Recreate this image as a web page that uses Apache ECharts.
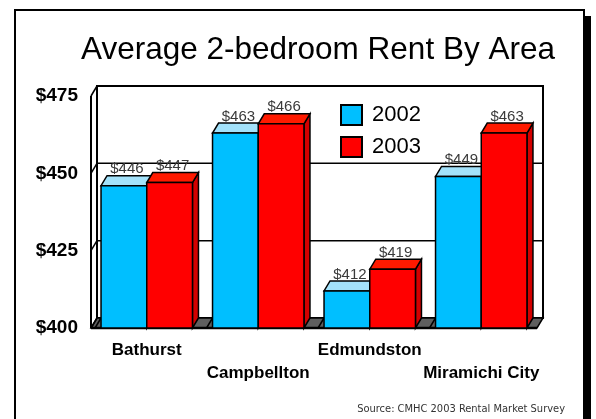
<!DOCTYPE html>
<html lang="en">
<head>
    <meta charset="UTF-8">
    <title>Average 2-bedroom Rent By Area</title>
    <script type="text/javascript" src="https://cdn.jsdelivr.net/npm/echarts@6/dist/echarts.min.js"></script>
</head>
<body>
<div id="chart" class="chart"></div>
</body>
<style>
    * {
        padding: 0;
        margin: 0;
    }

    html, body {
        width: 100%;
        height: 100%;
        background-color: white;
    }

    .chart {
        width: 596px;
        height: 419px;
    }
</style>
<script>

    const categories = ['Bathurst', 'Campbellton', 'Edmundston', 'Miramichi City']
    const rent2002 = [446, 463, 412, 449]
    const rent2003 = [447, 466, 419, 463]
    const yTicks = [400, 425, 450, 475]

    // 3d depth of the old style chart
    const DX = 6
    const DY = -10
    const BASE = yTicks[0]

    const barRenderer = function (slot, colors) {
        return function (params, api) {
            let idx = api.value(0)
            let val = api.value(1)
            let top = api.coord([idx, val])
            let base = api.coord([idx, BASE])
            let band = api.size([1, 0])[0]
            let w = band * 0.41
            let x0 = top[0] - w + slot * w
            let x1 = x0 + w
            let yT = top[1], yB = base[1]
            let line = {stroke: '#000', lineWidth: 1.5}
            let children = []
            if (slot === 0) {
                children.push({
                    type: 'line',
                    shape: {x1: x0 - DX, y1: yB, x2: x0, y2: yB + DY},
                    style: {stroke: '#000', lineWidth: 1.5}
                })
            }
            children.push({
                type: 'polygon',
                shape: {points: [[x1, yT], [x1 + DX, yT + DY], [x1 + DX, yB + DY], [x1, yB]]},
                style: Object.assign({fill: colors.side}, line)
            })
            children.push({
                type: 'polygon',
                shape: {points: [[x0, yT], [x1, yT], [x1 + DX, yT + DY], [x0 + DX, yT + DY]]},
                style: Object.assign({fill: colors.top}, line)
            })
            children.push({
                type: 'rect',
                shape: {x: x0, y: yT, width: w, height: yB - yT},
                style: Object.assign({fill: colors.front}, line)
            })
            children.push({
                type: 'text',
                style: {
                    x: x0 + w / 2 + DX / 2,
                    y: yT + DY + 1,
                    text: '$' + val,
                    align: 'center',
                    verticalAlign: 'bottom',
                    fill: '#3a3a3a',
                    font: '15px "Liberation Sans", Arial, sans-serif'
                }
            })
            return {type: 'group', children: children}
        }
    }

    const wallRenderer = function (params, api) {
        let v = api.value(1)
        let left = api.coord([0, v])
        let right = api.coord([categories.length - 1, v])
        let band = api.size([1, 0])[0]
        let xa = left[0] - band / 2
        let xb = right[0] + band / 2
        let y = left[1]
        let children = []
        if (params.dataIndex === 0) {
            let yTop = api.coord([0, yTicks[yTicks.length - 1]])[1]
            children.push({
                type: 'rect',
                shape: {x: xa + DX, y: yTop + DY, width: xb - xa, height: y - yTop},
                style: {fill: '#fff', stroke: '#000', lineWidth: 2}
            })
            children.push({
                type: 'polygon',
                shape: {points: [[xa, y], [xb, y], [xb + DX, y + DY], [xa + DX, y + DY]]},
                style: {fill: '#5f5f5f', stroke: '#000', lineWidth: 1.5}
            })
            children.push({
                type: 'line',
                shape: {x1: xa, y1: yTop, x2: xa, y2: y},
                style: {stroke: '#000', lineWidth: 2}
            })
            children.push({
                type: 'line',
                shape: {x1: xa, y1: y, x2: xb, y2: y},
                style: {stroke: '#000', lineWidth: 2.5}
            })
        } else {
            children.push({
                type: 'line',
                shape: {x1: xa + DX, y1: y + DY, x2: xb + DX, y2: y + DY},
                style: {stroke: '#000', lineWidth: 1.5}
            })
        }
        children.push({
            type: 'line',
            shape: {x1: xa, y1: y, x2: xa + DX, y2: y + DY},
            style: {stroke: '#000', lineWidth: 1.5}
        })
        return {type: 'group', children: children}
    }

    let chart = echarts.init(document.getElementById('chart'))

    chart.setOption({
        animation: false,
        title: {
            text: 'Average 2-bedroom Rent By Area',
            left: 76,
            top: 29,
            textStyle: {
                fontFamily: '"Liberation Sans", Arial, sans-serif',
                fontWeight: 'normal',
                fontSize: 31.5,
                color: '#000'
            }
        },
        legend: {
            data: ['2002', '2003'],
            orient: 'vertical',
            left: 335,
            top: 99,
            itemWidth: 21,
            itemHeight: 20,
            itemGap: 10,
            icon: 'rect',
            textStyle: {
                fontFamily: '"Liberation Sans", Arial, sans-serif',
                fontSize: 22,
                color: '#000',
                padding: [0, 0, 0, 5]
            }
        },
        grid: {
            left: 91,
            top: 96,
            width: 446,
            height: 232
        },
        xAxis: {
            type: 'category',
            data: categories,
            axisLine: {show: false},
            axisTick: {show: false},
            axisLabel: {
                interval: 0,
                margin: 11,
                fontFamily: '"Liberation Sans", Arial, sans-serif',
                fontWeight: 'bold',
                fontSize: 17,
                lineHeight: 23,
                color: '#000',
                formatter: (v, i) => (i % 2 ? '\n' + v : v)
            }
        },
        yAxis: {
            type: 'value',
            min: 400,
            max: 475,
            interval: 25,
            splitLine: {show: false},
            axisLine: {show: false},
            axisTick: {show: false},
            axisLabel: {
                margin: 13,
                fontFamily: '"Liberation Sans", Arial, sans-serif',
                fontWeight: 'bold',
                fontSize: 19,
                color: '#000',
                formatter: (v) => '$' + v
            }
        },
        graphic: [
            {
                type: 'rect',
                shape: {x: 15, y: 10, width: 569, height: 430},
                style: {fill: 'none', stroke: '#000', lineWidth: 2}
            },
            {
                type: 'rect',
                shape: {x: 584, y: 16, width: 7, height: 430},
                style: {fill: '#000'}
            },
            {
                type: 'text',
                right: 31,
                top: 404,
                style: {
                    text: 'Source: CMHC 2003 Rental Market Survey',
                    fill: '#333',
                    font: '11px "Liberation Sans Narrow", "DejaVu Sans Condensed", sans-serif'
                }
            }
        ],
        series: [
            {
                name: 'wall',
                type: 'custom',
                silent: true,
                z: 1,
                renderItem: wallRenderer,
                encode: {x: 0, y: 1},
                data: yTicks.map(v => [0, v])
            },
            {
                name: '2002',
                type: 'custom',
                z: 2,
                itemStyle: {color: '#00bfff', borderColor: '#000', borderWidth: 1.5},
                renderItem: barRenderer(0, {front: '#00bfff', top: '#a3e2fb', side: '#0090c0'}),
                encode: {x: 0, y: 1},
                data: rent2002.map((v, i) => [i, v])
            },
            {
                name: '2003',
                type: 'custom',
                z: 3,
                itemStyle: {color: '#ff0000', borderColor: '#000', borderWidth: 1.5},
                renderItem: barRenderer(1, {front: '#ff0000', top: '#ff1a00', side: '#d40000'}),
                encode: {x: 0, y: 1},
                data: rent2003.map((v, i) => [i, v])
            }
        ]
    })

</script>
</html>
